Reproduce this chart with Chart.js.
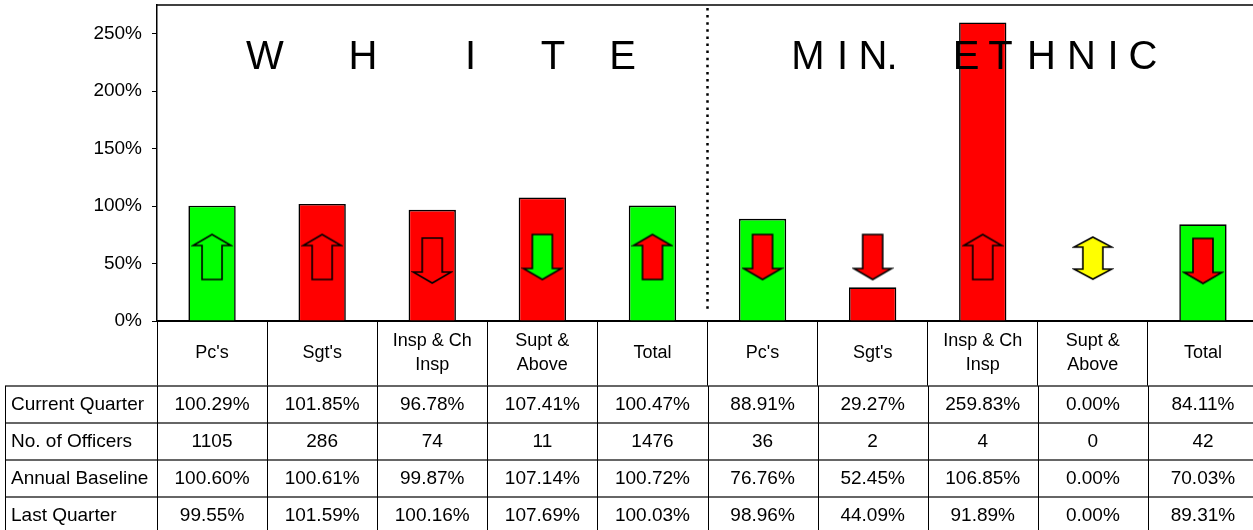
<!DOCTYPE html>
<html>
<head>
<meta charset="utf-8">
<script src="https://cdn.jsdelivr.net/npm/chart.js@4/dist/chart.umd.min.js"></script>
<style>
  html, body { margin: 0; padding: 0; background: #fff; overflow: hidden; }
  #wrap { width: 1258px; height: 530px; }
</style>
</head>
<body>
<div id="wrap"><canvas id="chart" width="1258" height="530"></canvas></div>
<script>
// categories (two groups of five)
const categories = [["Pc's"], ["Sgt's"], ["Insp & Ch", "Insp"], ["Supt &", "Above"], ["Total"],
                    ["Pc's"], ["Sgt's"], ["Insp & Ch", "Insp"], ["Supt &", "Above"], ["Total"]];

// table rows
const rowLabels = ["Current Quarter", "No. of Officers", "Annual Baseline", "Last Quarter"];
const currentQuarter = [100.29, 101.85, 96.78, 107.41, 100.47, 88.91, 29.27, 259.83, 0.00, 84.11];
const officers = [1105, 286, 74, 11, 1476, 36, 2, 4, 0, 42];
const annualBaseline = [100.60, 100.61, 99.87, 107.14, 100.72, 76.76, 52.45, 106.85, 0.00, 70.03];
const lastQuarter = [99.55, 101.59, 100.16, 107.69, 100.03, 98.96, 44.09, 91.89, 0.00, 89.31];

// bar status colours and trend arrows
const barColors = ['#00ff00', '#ff0000', '#ff0000', '#ff0000', '#00ff00',
                   '#00ff00', '#ff0000', '#ff0000', '#ffffff', '#00ff00'];
const arrowLevel = [55.7, 55.7, 52.6, 55.7, 55.7, 55.7, 55.7, 55.7, 54.3, 52.3];
const arrowFill = [null, null, null, '#00ff00', '#ff0000', '#ff0000', '#ff0000', null, '#ffff00', '#ff0000'];

const yTicks = [0, 50, 100, 150, 200, 250];
const FONT = "'Liberation Sans', Arial, sans-serif";

function pct(v) { return v.toFixed(2) + '%'; }

function makeArrow(dir, fill) {
  const c = document.createElement('canvas');
  c.width = 42; c.height = 49;
  const g = c.getContext('2d');
  const ox = 2, oy = 2;
  let pts;
  if (dir === 'up') {
    pts = [[19, 0], [38, 11], [29, 11], [29, 45], [9, 45], [9, 11], [0, 11]];
  } else if (dir === 'down') {
    pts = [[9, 0], [29, 0], [29, 34], [38, 34], [19, 45], [0, 34], [9, 34]];
  } else {
    pts = [[19, 1], [38, 11], [29, 11], [29, 33], [38, 33], [19, 43], [0, 33], [9, 33], [9, 11], [0, 11]];
  }
  g.beginPath();
  pts.forEach((p, i) => i ? g.lineTo(p[0] + ox, p[1] + oy) : g.moveTo(p[0] + ox, p[1] + oy));
  g.closePath();
  if (fill) { g.fillStyle = fill; g.fill(); }
  g.lineWidth = 1.6;
  g.strokeStyle = '#000';
  g.lineJoin = 'miter';
  g.stroke();
  return c;
}

const arrowStyles = currentQuarter.map((v, i) => {
  const dir = v > lastQuarter[i] ? 'up' : (v < lastQuarter[i] ? 'down' : 'both');
  return makeArrow(dir, arrowFill[i]);
});

const decorPlugin = {
  id: 'decor',
  afterDatasetsDraw(chart) {
    const ctx = chart.ctx, a = chart.chartArea, x = chart.scales.x;
    ctx.save();
    // top frame line
    ctx.strokeStyle = '#000';
    ctx.lineWidth = 1.5;
    ctx.beginPath(); ctx.moveTo(a.left, a.top); ctx.lineTo(a.right, a.top); ctx.stroke();
    // dotted separator between the groups
    const sep = (x.getPixelForValue(4) + x.getPixelForValue(5)) / 2;
    ctx.setLineDash([2.5, 4.6]);
    ctx.lineWidth = 2.5;
    ctx.beginPath(); ctx.moveTo(sep, a.top + 3); ctx.lineTo(sep, a.bottom - 8); ctx.stroke();
    ctx.setLineDash([]);
    // group titles
    ctx.fillStyle = '#000';
    ctx.font = '40px ' + FONT;
    ctx.textBaseline = 'alphabetic';
    ctx.textAlign = 'center';
    const white = [[265, 'W'], [363, 'H'], [470.5, 'I'], [553, 'T'], [622.5, 'E']];
    white.forEach(([cx, ch]) => ctx.fillText(ch, cx, 69));
    const eth = [[808, 'M'], [842.5, 'I'], [873, 'N'], [892, '.'], [966, 'E'], [1000.5, 'T'],
                 [1041.5, 'H'], [1081.5, 'N'], [1113, 'I'], [1143, 'C']];
    eth.forEach(([cx, ch]) => ctx.fillText(ch, cx, 69));
    ctx.restore();
  },
  afterDraw(chart) {
    const ctx = chart.ctx, x = chart.scales.x;
    const half = (x.getPixelForValue(1) - x.getPixelForValue(0)) / 2;
    const rowTops = [386, 423, 460, 497, 534];
    const rows = [currentQuarter.map(pct), officers.map(String), annualBaseline.map(pct), lastQuarter.map(pct)];
    ctx.save();
    // horizontal lines
    ctx.strokeStyle = '#333';
    ctx.lineWidth = 1.5;
    rowTops.slice(0, 4).forEach(y => {
      ctx.beginPath(); ctx.moveTo(5, y); ctx.lineTo(chart.width, y); ctx.stroke();
    });
    // vertical lines
    ctx.strokeStyle = '#000';
    ctx.lineWidth = 1;
    const bounds = [5.5];
    for (let i = 0; i < categories.length; i++) bounds.push(Math.round(x.getPixelForValue(i) - half) + 0.5);
    bounds.forEach(bx => {
      ctx.beginPath(); ctx.moveTo(bx, rowTops[0]); ctx.lineTo(bx, 530); ctx.stroke();
    });
    // text
    ctx.fillStyle = '#000';
    ctx.font = '19px ' + FONT;
    ctx.textBaseline = 'middle';
    rows.forEach((vals, r) => {
      const cy = rowTops[r] + 19;
      ctx.textAlign = 'left';
      ctx.fillText(rowLabels[r], 11, cy);
      ctx.textAlign = 'center';
      vals.forEach((t, i) => ctx.fillText(t, x.getPixelForValue(i), cy));
    });
    ctx.restore();
  }
};

new Chart(document.getElementById('chart'), {
  type: 'bar',
  data: {
    labels: categories,
    datasets: [{
      type: 'line',
      data: arrowLevel,
      showLine: false,
      pointStyle: arrowStyles,
      pointRadius: 1,
      pointHoverRadius: 0,
      order: 1
    }, {
      data: currentQuarter,
      backgroundColor: barColors,
      borderColor: '#000',
      borderWidth: 1.6,
      categoryPercentage: 1,
      barPercentage: 0.43,
      order: 2
    }]
  },
  options: {
    responsive: false,
    animation: false,
    events: [],
    layout: { autoPadding: false, padding: { top: 5, right: 0, bottom: 144, left: 0 } },
    plugins: { legend: { display: false }, tooltip: { enabled: false } },
    scales: {
      x: {
        grid: { offset: true, drawOnChartArea: false, drawTicks: true, tickLength: 65, color: '#000', lineWidth: 1 },
        border: { color: '#000', width: 2 },
        ticks: {
          color: '#000', padding: -45, maxRotation: 0, autoSkip: false,
          crossAlign: 'center',
          font: { family: FONT, size: 18, lineHeight: 1.333 }
        },
        afterFit(s) { s.height = 65; s.paddingLeft = 0; s.paddingRight = 0; }
      },
      y: {
        min: 0, max: 275,
        afterBuildTicks(s) { s.ticks = yTicks.map(v => ({ value: v })); },
        grid: { drawOnChartArea: false, drawTicks: true, tickLength: 5, color: '#000', lineWidth: 1 },
        border: { color: '#000', width: 1.5 },
        ticks: {
          color: '#000', padding: 10,
          font: { family: FONT, size: 19 },
          callback: v => v + '%'
        },
        afterFit(s) { s.width = 157; s.paddingTop = 0; s.paddingBottom = 0; }
      }
    }
  },
  plugins: [decorPlugin]
});
</script>
</body>
</html>
